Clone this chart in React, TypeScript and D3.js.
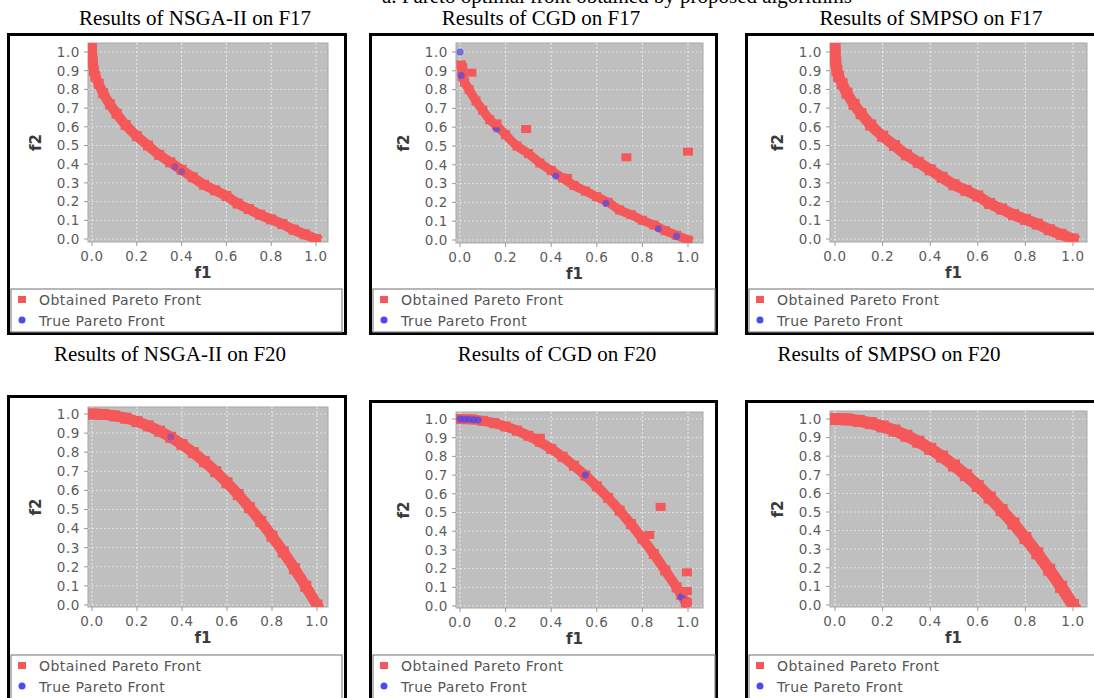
import React from "react";
import * as d3 from "d3";

// ---------- data ----------
const xTickValues = [0, 0.2, 0.4, 0.6, 0.8, 1.0];
const yTickValues = [0, 0.1, 0.2, 0.3, 0.4, 0.5, 0.6, 0.7, 0.8, 0.9, 1.0];
const titles = [
  "Results of NSGA-II on F17",
  "Results of CGD on F17",
  "Results of SMPSO on F17",
  "Results of NSGA-II on F20",
  "Results of CGD on F20",
  "Results of SMPSO on F20",
];
const heading = "a. Pareto optimal front obtained by proposed algorithms";
const legendLabels = ["Obtained Pareto Front", "True Pareto Front"];

const nsgaF17: [number, number][] = [
  [0.0, 1.02], [0.003, 0.95], [0.008, 0.9], [0.015, 0.87], [0.03, 0.83], [0.05, 0.78],
  [0.08, 0.72], [0.11, 0.67], [0.15, 0.61], [0.2, 0.55], [0.25, 0.5], [0.3, 0.45],
  [0.35, 0.41], [0.4, 0.37], [0.45, 0.33], [0.5, 0.29], [0.55, 0.26], [0.6, 0.23],
  [0.65, 0.19], [0.7, 0.16], [0.75, 0.13], [0.8, 0.105], [0.85, 0.08], [0.9, 0.05],
  [0.95, 0.025], [1.0, 0.0],
];
const cgdF17: [number, number][] = [
  [0.005, 0.93], [0.01, 0.87], [0.02, 0.84], [0.04, 0.8], [0.07, 0.74], [0.1, 0.69],
  [0.13, 0.64], [0.16, 0.61], [0.2, 0.56], [0.25, 0.5], [0.3, 0.46], [0.35, 0.41],
  [0.4, 0.37], [0.45, 0.33], [0.5, 0.29], [0.55, 0.26], [0.6, 0.23], [0.65, 0.2],
  [0.7, 0.16], [0.75, 0.135], [0.8, 0.105], [0.85, 0.08], [0.9, 0.05], [0.95, 0.025],
  [1.0, 0.0],
];
const cgdF17Outliers: [number, number][] = [
  [0.05, 0.89], [0.29, 0.59], [0.73, 0.44], [1.0, 0.47], [0.47, 0.33], [0.16, 0.62], [0.01, 0.92],
];
const smpsoF17: [number, number][] = [
  [0.0, 1.02], [0.003, 0.95], [0.008, 0.9], [0.015, 0.87], [0.03, 0.83], [0.05, 0.78],
  [0.08, 0.72], [0.11, 0.67], [0.15, 0.61], [0.2, 0.55], [0.25, 0.5], [0.3, 0.45],
  [0.35, 0.41], [0.4, 0.37], [0.45, 0.33], [0.5, 0.29], [0.55, 0.26], [0.6, 0.23],
  [0.65, 0.19], [0.7, 0.16], [0.75, 0.13], [0.8, 0.105], [0.85, 0.08], [0.9, 0.05],
  [0.95, 0.025], [1.0, 0.0],
];
const trueVisibleNsgaF17: [number, number][] = [[0.4, 0.36], [0.37, 0.385]];
const trueVisibleCgdF17: [number, number][] = [
  [0.0, 1.0], [0.005, 0.875], [0.16, 0.59], [0.42, 0.34], [0.64, 0.195], [0.87, 0.06], [0.95, 0.02],
];

const nsgaF20: [number, number][] = [
  [0.0, 1.0], [0.05, 0.998], [0.1, 0.99], [0.15, 0.978], [0.2, 0.96], [0.25, 0.938],
  [0.3, 0.91], [0.35, 0.878], [0.4, 0.84], [0.45, 0.798], [0.5, 0.75], [0.55, 0.698],
  [0.6, 0.64], [0.65, 0.578], [0.7, 0.51], [0.75, 0.438], [0.8, 0.36], [0.85, 0.278],
  [0.9, 0.19], [0.95, 0.098], [1.0, 0.0],
];
const cgdF20: [number, number][] = [
  [0.0, 1.0], [0.05, 0.998], [0.1, 0.99], [0.15, 0.978], [0.2, 0.96], [0.25, 0.938],
  [0.3, 0.91], [0.35, 0.878], [0.4, 0.84], [0.45, 0.798], [0.5, 0.75], [0.55, 0.698],
  [0.6, 0.64], [0.65, 0.578], [0.7, 0.51], [0.75, 0.438], [0.8, 0.36], [0.85, 0.278],
  [0.9, 0.19], [0.95, 0.1], [0.97, 0.06], [0.99, 0.02],
];
const cgdF20Outliers: [number, number][] = [
  [0.35, 0.9], [0.88, 0.53], [0.83, 0.38], [0.995, 0.18], [0.995, 0.08], [0.995, 0.02],
];
const smpsoF20: [number, number][] = [
  [0.0, 1.0], [0.05, 0.998], [0.1, 0.99], [0.15, 0.978], [0.2, 0.96], [0.25, 0.938],
  [0.3, 0.91], [0.35, 0.878], [0.4, 0.84], [0.45, 0.798], [0.5, 0.75], [0.55, 0.698],
  [0.6, 0.64], [0.65, 0.578], [0.7, 0.51], [0.75, 0.438], [0.8, 0.36], [0.85, 0.278],
  [0.9, 0.19], [0.95, 0.098], [1.0, 0.0],
];
const trueVisibleNsgaF20: [number, number][] = [[0.35, 0.88]];
const trueVisibleCgdF20: [number, number][] = [
  [0.0, 1.0], [0.02, 0.999], [0.04, 0.998], [0.06, 0.996], [0.08, 0.994],
  [0.55, 0.7], [0.97, 0.05], [0.985, 0.03],
];

// ---------- layout ----------
const RED = "#f45858";
const BLUE = "#4a4aee";
const GRAY_BG = "#bfbfbf";

type Panel = {
  frame: { x: number; y: number; w: number; h: number };
  plot: { x: number; y: number; w: number; h: number };
  xr: [number, number];
  yr: [number, number];
  legendY: number;
  legendW: number;
  legendH: number;
  title: { x: number; y: number };
  front: [number, number][];
  outliers: [number, number][];
  trueVisible: [number, number][];
  trueOpacity: number;
  band: number;
};

const panels: Panel[] = [
  { frame: { x: 7, y: 33, w: 340, h: 302 }, plot: { x: 88, y: 43, w: 240, h: 199 }, xr: [92, 316], yr: [239, 52], legendY: 289, legendW: 331, legendH: 43, title: { x: 195, y: 25 }, front: nsgaF17, outliers: [], trueVisible: trueVisibleNsgaF17, trueOpacity: 0.45, band: 10 },
  { frame: { x: 369, y: 33, w: 349, h: 302 }, plot: { x: 456, y: 43, w: 247, h: 200 }, xr: [460, 688], yr: [240, 52], legendY: 289, legendW: 342, legendH: 43, title: { x: 541, y: 25 }, front: cgdF17, outliers: cgdF17Outliers, trueVisible: trueVisibleCgdF17, trueOpacity: 0.7, band: 9 },
  { frame: { x: 745, y: 33, w: 360, h: 302 }, plot: { x: 830, y: 43, w: 257, h: 199 }, xr: [835, 1073], yr: [239, 52], legendY: 289, legendW: 360, legendH: 43, title: { x: 931, y: 25 }, front: smpsoF17, outliers: [], trueVisible: [], trueOpacity: 0, band: 11 },
  { frame: { x: 7, y: 395, w: 340, h: 315 }, plot: { x: 88, y: 407, w: 240, h: 200 }, xr: [92, 317], yr: [605, 414], legendY: 655, legendW: 331, legendH: 60, title: { x: 170, y: 361 }, front: nsgaF20, outliers: [], trueVisible: trueVisibleNsgaF20, trueOpacity: 0.45, band: 11 },
  { frame: { x: 369, y: 400, w: 349, h: 310 }, plot: { x: 456, y: 412, w: 247, h: 196 }, xr: [460, 688], yr: [606, 419], legendY: 655, legendW: 342, legendH: 60, title: { x: 557, y: 361 }, front: cgdF20, outliers: cgdF20Outliers, trueVisible: trueVisibleCgdF20, trueOpacity: 0.75, band: 10 },
  { frame: { x: 745, y: 400, w: 360, h: 310 }, plot: { x: 830, y: 411, w: 257, h: 196 }, xr: [835, 1073], yr: [605, 419], legendY: 655, legendW: 360, legendH: 60, title: { x: 889, y: 361 }, front: smpsoF20, outliers: [], trueVisible: [], trueOpacity: 0, band: 12 },
];

const SANS = "'DejaVu Sans', Verdana, sans-serif";
const SERIF = "'Liberation Serif', 'Times New Roman', serif";

function ChartPanel({ p, i }: { p: Panel; i: number }) {
  const x = d3.scaleLinear().domain([0, 1]).range(p.xr);
  const y = d3.scaleLinear().domain([0, 1]).range(p.yr);
  const line = d3
    .line<[number, number]>()
    .x((d) => x(d[0]))
    .y((d) => y(d[1]))
    .curve(d3.curveCatmullRom);
  const clipId = `clip${i}`;
  const lx = p.frame.x + 4;
  return (
    <g>
      <text x={p.title.x} y={p.title.y} textAnchor="middle" fontFamily={SERIF} fontSize={21} fill="#000">
        {titles[i]}
      </text>
      <rect x={p.frame.x + 1.5} y={p.frame.y + 1.5} width={p.frame.w - 3} height={p.frame.h - 3} fill="#fff" stroke="#000" strokeWidth={3} />
      <defs>
        <clipPath id={clipId}>
          <rect x={p.plot.x} y={p.plot.y} width={p.plot.w} height={p.plot.h} />
        </clipPath>
      </defs>
      <rect x={p.plot.x} y={p.plot.y} width={p.plot.w} height={p.plot.h} fill={GRAY_BG} stroke="#a8a8a8" strokeWidth={1} />
      {xTickValues.map((t) => (
        <line key={"gx" + t} x1={x(t)} x2={x(t)} y1={p.plot.y} y2={p.plot.y + p.plot.h} stroke="#ffffff" strokeOpacity={0.7} strokeDasharray="2,2" />
      ))}
      {yTickValues.map((t) => (
        <line key={"gy" + t} x1={p.plot.x} x2={p.plot.x + p.plot.w} y1={y(t)} y2={y(t)} stroke="#ffffff" strokeOpacity={0.5} strokeDasharray="2,2" />
      ))}
      <g clipPath={`url(#${clipId})`}>
        <path d={line(p.front) || ""} fill="none" stroke={RED} strokeWidth={p.band} strokeLinecap="square" strokeLinejoin="round" />
        {p.front.map((d, k) => (
          <rect key={"f" + k} x={x(d[0]) - p.band / 2} y={y(d[1]) - p.band / 2} width={p.band} height={p.band} fill={RED} />
        ))}
        {p.trueVisible.map((d, k) => (
          <circle key={"t" + k} cx={x(d[0])} cy={y(d[1])} r={3.5} fill={BLUE} fillOpacity={p.trueOpacity} />
        ))}
        {p.outliers.map((d, k) => (
          <rect key={"o" + k} x={x(d[0]) - 5} y={y(d[1]) - 4} width={10} height={8} fill={RED} />
        ))}
      </g>
      {yTickValues.map((t) => (
        <g key={"yt" + t}>
          <line x1={p.plot.x - 4} x2={p.plot.x} y1={y(t)} y2={y(t)} stroke="#999" />
          <text x={p.plot.x - 8} y={y(t)} dy="0.36em" textAnchor="end" fontFamily={SANS} fontSize={13.5} letterSpacing={0.6} fill="#5c5c5c">
            {t.toFixed(1)}
          </text>
        </g>
      ))}
      {xTickValues.map((t) => (
        <g key={"xt" + t}>
          <line x1={x(t)} x2={x(t)} y1={p.plot.y + p.plot.h} y2={p.plot.y + p.plot.h + 4} stroke="#999" />
          <text x={x(t)} y={p.plot.y + p.plot.h + 14} dy="0.36em" textAnchor="middle" fontFamily={SANS} fontSize={13.5} letterSpacing={0.6} fill="#5c5c5c">
            {t.toFixed(1)}
          </text>
        </g>
      ))}
      <text x={p.plot.x + p.plot.w / 2 - 5} y={p.plot.y + p.plot.h + 31} dy="0.36em" textAnchor="middle" fontFamily={SANS} fontSize={15} fontWeight="bold" fill="#3a3a3a">
        f1
      </text>
      <text transform={`translate(${p.plot.x - 52},${p.plot.y + p.plot.h / 2}) rotate(-90)`} dy="0.36em" textAnchor="middle" fontFamily={SANS} fontSize={15} fontWeight="bold" fill="#3a3a3a">
        f2
      </text>
      <rect x={lx} y={p.legendY} width={p.legendW} height={p.legendH} fill="#fff" stroke="#888" strokeWidth={1.2} />
      <rect x={lx + 7} y={p.legendY + 7} width={8} height={7} fill={RED} />
      <text x={lx + 28} y={p.legendY + 11} dy="0.36em" fontFamily={SANS} fontSize={14} letterSpacing={0.45} fill="#555">
        {legendLabels[0]}
      </text>
      <circle cx={lx + 11} cy={p.legendY + 31} r={3.5} fill={BLUE} />
      <text x={lx + 28} y={p.legendY + 32} dy="0.36em" fontFamily={SANS} fontSize={14} letterSpacing={0.45} fill="#555">
        {legendLabels[1]}
      </text>
    </g>
  );
}

export default function App() {
  return (
    <svg width={1094} height={698} style={{ position: "absolute", left: 0, top: 0, background: "#fff" }}>
      <rect x={0} y={0} width={1094} height={698} fill="#fff" />
      <text x={617} y={3} textAnchor="middle" fontFamily={SERIF} fontSize={21} fill="#000">
        {heading}
      </text>
      {panels.map((p, i) => (
        <ChartPanel key={i} p={p} i={i} />
      ))}
    </svg>
  );
}
